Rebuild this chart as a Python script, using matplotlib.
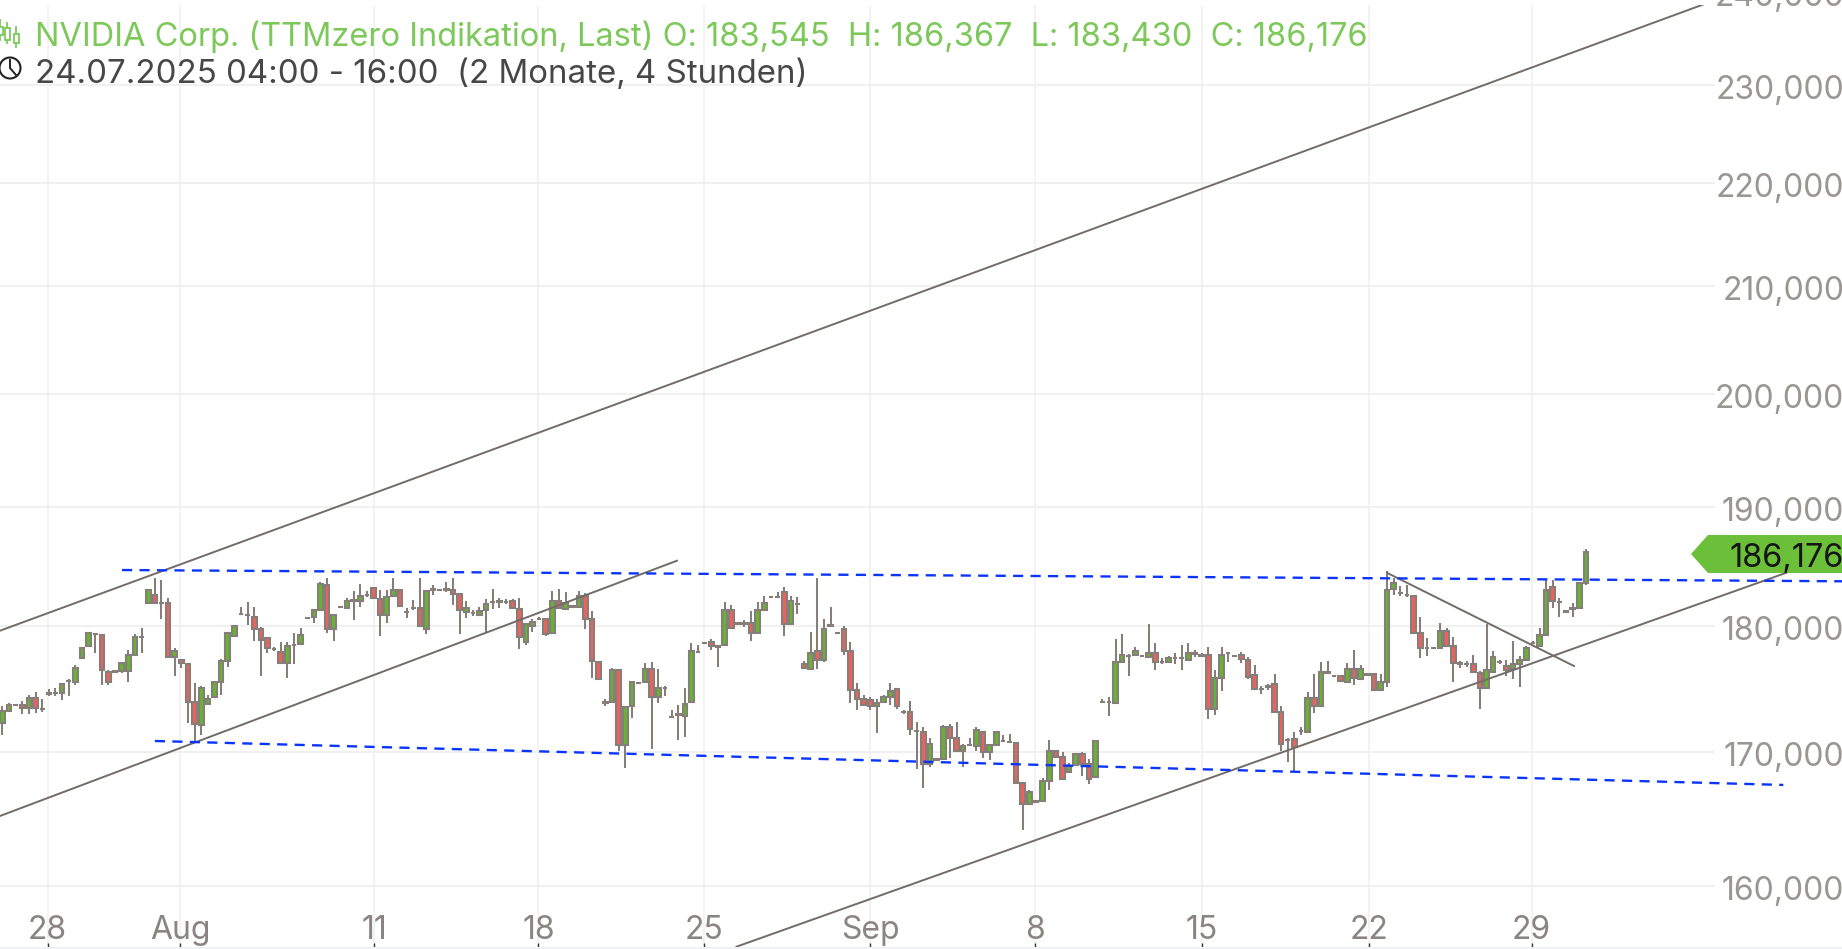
import numpy as np
import matplotlib
matplotlib.use("Agg")
import matplotlib.pyplot as plt
from matplotlib.patches import Polygon, Circle, Rectangle
from matplotlib.transforms import ScaledTranslation

plt.rcParams["font.family"] = ["Inter", "Liberation Sans", "DejaVu Sans"]

# 4h candles
opens = [172.3,173.19,173.67,173.72,173.42,174.25,173.38,174.55,174.62,174.65,175.55,175.5,177.46,178.41,179.4,179.28,176.29,176.35,176.34,176.39,
177.69,179.12,181.89,182.59,181.92,181.89,177.5,177.3,176.95,173.9,172.13,173.75,174.3,175.52,177.16,179.2,181.03,180.9,180.78,179.81,
179.02,178.15,177.88,177.0,178.47,178.57,180.64,180.72,181.33,183.42,179.81,181.53,181.5,182.1,182.09,182.53,183.14,182.22,180.95,182.45,
183.0,181.2,181.45,181.45,179.81,183.0,183.0,183.0,182.95,182.67,181.2,181.06,180.92,181.33,182.0,182.0,182.0,182.03,181.42,178.73,
180.03,180.6,180.56,179.47,182.03,181.39,181.6,181.53,182.5,180.56,177.11,173.88,173.9,176.42,170.54,173.59,175.44,175.5,176.55,174.28,
175.0,172.74,172.95,172.85,173.9,177.92,178.65,178.72,178.36,178.49,181.31,180.2,180.2,180.28,179.47,181.33,182.38,182.38,182.84,180.17,
181.81,176.95,176.56,177.96,177.3,180.05,179.44,179.81,178.01,174.83,174.12,174.06,173.59,173.9,174.33,174.97,173.14,173.17,171.67,171.59,
169.13,169.43,169.45,171.98,171.11,170.13,170.55,170.45,171.56,170.0,170.55,170.87,170.82,170.71,167.63,166.08,166.25,166.25,167.8,170.13,
169.63,168.5,169.0,169.83,169.13,168.13,173.91,173.91,173.83,177.06,177.59,177.67,177.59,177.49,177.8,177.14,177.14,177.46,177.46,177.27,
177.8,177.55,177.67,173.36,175.82,177.8,177.57,177.67,177.27,176.03,174.95,175.16,175.34,173.17,170.98,171.06,171.67,171.59,174.23,173.57,
176.27,175.98,176.0,175.5,176.51,175.71,176.11,176.11,174.87,175.5,183.09,182.72,182.59,182.45,179.42,178.25,178.25,178.23,179.6,178.36,
176.98,176.93,176.93,176.24,175.0,176.3,177.09,176.77,176.51,176.9,177.3,178.62,178.41,179.29,183.2,182.0,181.22,181.45,181.47,183.545]
highs = [173.59,173.8,173.75,173.98,174.51,174.7,174.17,174.98,175.04,175.44,175.71,176.82,178.3,179.47,179.47,179.34,176.45,176.45,177.03,178.04,
179.36,179.89,183.06,183.98,183.78,182.31,178.22,177.35,176.98,175.44,175.18,174.51,175.6,177.35,179.47,180.08,181.56,182.0,181.56,179.9,
179.15,178.28,178.75,178.75,179.47,179.85,180.75,181.39,183.64,183.98,181.0,181.67,182.31,182.86,183.48,182.86,183.22,183.0,183.0,183.98,
183.06,181.47,182.11,183.98,182.92,183.42,183.06,183.64,183.98,182.72,182.03,181.33,181.61,182.25,183.06,182.31,182.22,182.22,182.28,180.22,
180.56,180.72,180.61,182.86,183.06,182.78,181.7,182.86,182.72,181.28,177.16,174.17,176.63,176.45,173.59,175.57,175.5,177.03,177.08,176.5,
175.18,173.32,173.65,175.04,178.62,178.49,178.75,178.99,178.41,181.97,181.7,180.3,180.5,181.22,181.95,182.5,182.45,182.78,183.22,182.45,
182.39,177.16,179.5,183.98,180.58,181.56,179.52,180.0,178.75,175.44,174.51,174.33,174.12,174.51,175.44,175.0,173.25,174.02,172.38,171.98,
171.14,169.5,172.11,172.19,172.33,170.61,171.14,171.98,171.67,170.66,171.61,171.32,171.45,170.79,167.68,167.08,166.3,168.0,170.92,170.21,
170.0,169.18,169.93,170.0,169.5,170.9,174.15,174.31,178.99,179.34,177.72,178.28,177.68,180.2,178.6,177.41,177.59,177.86,178.47,178.6,
178.07,177.8,178.28,176.48,178.28,177.88,177.65,177.88,177.54,176.88,175.21,175.34,176.11,173.57,171.14,171.59,171.93,174.68,176.16,177.09,
177.2,176.06,176.08,177.01,178.04,176.82,176.19,176.16,176.11,184.53,183.98,183.28,183.42,182.5,180.78,179.02,178.33,180.22,179.87,179.15,
177.17,177.17,177.7,176.38,180.14,177.96,177.3,177.3,178.76,177.57,178.36,178.76,179.89,183.92,183.84,182.3,181.33,181.89,183.61,186.367]
lows = [171.33,173.1,173.6,173.0,173.0,173.06,173.16,174.38,174.43,174.07,174.38,175.28,177.4,178.36,177.83,175.28,175.23,176.25,176.24,175.5,
177.64,177.83,181.83,181.83,180.56,177.43,175.97,176.63,172.26,170.8,171.33,173.65,174.25,174.51,176.7,179.1,180.9,180.08,178.78,175.97,
177.83,178.0,176.93,175.81,176.93,178.52,180.55,180.28,181.28,179.42,178.83,181.45,181.45,180.5,181.61,182.36,182.22,179.23,180.22,182.39,
181.61,180.7,181.33,179.95,179.36,182.59,182.94,182.8,181.75,179.36,180.7,180.86,180.86,179.42,181.42,181.47,181.83,181.42,178.15,178.49,
179.55,180.5,179.23,179.42,181.39,181.33,181.5,181.47,179.81,175.84,175.65,173.59,173.85,170.09,168.82,172.66,175.38,175.39,170.27,173.85,
174.38,172.63,170.94,171.2,173.85,177.83,178.55,178.09,176.69,178.41,179.81,180.1,179.95,178.83,179.42,181.28,182.3,182.28,179.23,180.11,
181.0,176.56,176.5,176.5,177.08,179.95,179.36,177.64,173.85,173.32,173.59,173.32,171.52,173.85,173.72,173.38,172.96,171.32,168.75,167.25,
168.88,169.35,169.43,169.55,170.08,168.88,170.5,170.13,169.53,169.38,170.5,170.79,170.71,167.58,164.13,166.03,166.2,166.2,167.08,169.55,
167.93,168.45,168.95,168.18,167.55,168.08,173.83,172.78,173.78,177.01,175.95,177.62,177.52,177.41,176.48,176.96,177.09,176.96,176.48,177.22,
177.49,177.49,172.62,172.91,174.76,177.06,177.5,177.01,175.77,174.89,174.52,174.89,173.09,170.08,169.25,168.5,171.37,171.53,173.09,173.52,
176.22,175.9,175.48,175.45,175.26,175.66,175.98,174.81,174.81,175.13,182.59,182.5,182.39,179.36,177.43,177.62,178.18,178.17,178.31,175.5,
176.59,176.72,176.24,173.39,174.95,176.24,176.96,175.98,175.71,175.1,177.25,178.57,178.36,179.23,181.47,180.72,181.06,180.72,181.42,183.43]
closes = [173.19,173.67,173.65,173.45,174.25,173.45,173.35,174.6,174.65,175.33,175.58,176.6,178.25,179.42,179.38,176.42,175.5,176.33,176.98,177.69,
179.15,179.15,183.0,181.89,181.9,177.5,177.96,176.98,173.9,172.2,175.0,174.12,175.52,177.16,179.42,180.0,181.0,180.88,179.81,178.89,
178.2,178.13,177.0,178.36,178.5,179.26,180.66,181.33,183.5,179.81,180.92,181.55,182.09,182.12,182.45,182.55,182.28,180.95,182.39,182.95,
181.67,181.18,181.47,180.0,182.86,183.02,183.0,183.02,182.64,181.33,181.47,181.08,181.25,181.81,182.02,182.03,182.01,181.47,179.15,180.17,
180.36,180.62,179.34,182.03,181.47,181.89,181.62,182.5,180.56,177.16,175.71,173.86,176.42,170.54,173.53,175.5,175.46,176.55,174.28,175.0,
175.03,172.72,172.93,173.75,177.98,177.94,178.66,178.41,178.34,181.33,179.87,180.22,180.22,179.47,181.33,181.89,182.4,182.4,180.17,182.06,
181.8,176.63,177.83,177.3,179.81,180.07,179.42,178.01,174.83,174.12,173.72,173.59,173.85,174.28,174.78,173.59,173.12,171.77,171.65,169.13,
170.66,169.45,171.98,171.11,170.13,170.5,170.57,171.72,170.0,170.53,171.56,170.85,170.8,167.63,166.08,166.93,166.23,167.83,170.13,169.63,
167.95,168.93,169.83,169.13,167.95,170.84,173.93,173.89,177.14,177.67,177.57,178.02,177.57,177.8,177.14,177.12,177.41,177.44,177.44,177.86,
177.78,177.68,173.36,175.82,177.67,177.82,177.55,177.33,175.9,174.95,174.93,175.14,173.17,170.66,170.96,170.4,171.65,174.23,173.57,176.27,
176.25,175.96,175.55,176.56,175.85,176.56,176.09,174.87,175.5,183.0,183.56,182.7,182.57,179.42,178.23,178.23,178.23,179.6,178.36,176.98,
176.96,176.91,176.3,175.0,176.43,177.51,177.07,176.45,176.9,177.3,178.23,178.64,179.29,183.0,182.09,181.98,181.2,181.43,183.56,186.176]

# trading bar index of each date label
tick_pos = [6.82, 26.84, 56.08, 80.9, 105.9, 131.0, 155.9, 181.0, 206.2, 230.8]
tick_labels = ["28", "Aug", "11", "18", "25", "Sep", "8", "15", "22", "29"]
price_levels = [160, 170, 180, 190, 200, 210, 220, 230, 240]

# drawn trend lines (bar index, price)
grey_lines = [
    ([-0.38, 257.1], [179.63, 238.7]),
    ([-0.38, 101.8], [165.16, 185.42]),
    ([110.8, 269.3], [155.66, 184.42]),
    ([209.0, 237.2], [184.4, 176.78]),
]
blue_lines = [
    ([18.04, 277.66], [184.64, 183.7]),
    ([23.0, 268.8], [170.87, 167.5]),
]

last_price = 186.176
title_text = "NVIDIA Corp. (TTMzero Indikation, Last) O: 183,545  H: 186,367  L: 183,430  C: 186,176"
range_text = "24.07.2025 04:00 - 16:00  (2 Monate, 4 Stunden)"

W, H = 1842, 949
GREY = "#857e79"
LINE = "#736b67"
UP = "#66b52e"
DOWN = "#f0605a"
TXT = "#9a9694"

fig = plt.figure(figsize=(W / 100, H / 100), dpi=100, facecolor="white")
ax = fig.add_axes([0, 2 / H, 1, 942 / H])
ax.set_yscale("log")
ax.set_xlim(-0.377, 277.66)
ax.set_ylim(160 * np.exp(-61 / 2206), 160 * np.exp(881 / 2206))
for s in ax.spines.values():
    s.set_visible(False)

x = np.arange(len(opens))
o, h, l, c = map(np.array, (opens, highs, lows, closes))

# grid
ax.vlines(tick_pos, *ax.get_ylim(), color="#f0f0f0", lw=1.1, zorder=1)
ax.hlines(price_levels, -1, 258.5, color="#efefef", lw=1.3, zorder=1)

# candles
ax.vlines(x, l, h, color=GREY, lw=1.45, zorder=2)
colors = np.where(c >= o, UP, DOWN)
ax.bar(x, np.abs(c - o), bottom=np.minimum(o, c), width=0.68, color=colors,
       edgecolor=GREY, linewidth=1.5, zorder=3)

for xs, ys in grey_lines:
    ax.plot(xs, ys, color=LINE, lw=1.4, zorder=4)
for xs, ys in blue_lines:
    ax.plot(xs, ys, color="#0a35ff", lw=1.7, dashes=(4.3, 3.1), zorder=5)

# axis labels sit inside the plot
ax.set_yticks([])
ax.minorticks_off()
ax.set_xticks(tick_pos)
ax.set_xticklabels(tick_labels, fontsize=23, color="#8a8582")
ax.tick_params(axis="x", direction="in", length=3, width=1, color="#333333", pad=-23)
ax.tick_params(axis="y", which="both", left=False)

# pixel layer for header, price scale and tag
ov = fig.add_axes([0, 0, 1, 1], facecolor="none")
ov.set_xlim(0, W)
ov.set_ylim(H, 0)
ov.axis("off")

tr = ax.get_yaxis_transform() + ScaledTranslation(0, -2 / 100, fig.dpi_scale_trans)
for p in price_levels:
    ax.text(1.0012, p, f"{p},000", transform=tr, ha="right", va="center_baseline",
            fontsize=23, color=TXT, clip_on=False, zorder=6)

ov.add_patch(Polygon([(1691, 554), (1708, 535), (W + 2, 535), (W + 2, 573), (1708, 573)],
                     closed=True, fc="#6cbf38", ec="none", zorder=7))
ov.text(W + 2, 555, f"{last_price:.3f}".replace(".", ","), ha="right", va="center_baseline",
        fontsize=23.4, color="#141414", zorder=8)

ov.text(35, 37, title_text, fontsize=23.45, color="#7cc95a", va="center", ha="left")
ov.text(35, 74, range_text, fontsize=23.8, color="#474747", va="center", ha="left")

# chart icon
icon = "#7cc95a"
for cx, t, b, wt, wb in [(0, 27, 35, 20, 40), (7, 28, 40, 23, 43), (16, 34, 43, 27, 47)]:
    ov.plot([cx, cx], [wt, wb], color=icon, lw=1.3)
    ov.add_patch(Rectangle((cx - 2.5, t), 5, b - t, fc="white", ec=icon, lw=1.3, zorder=3))
# clock icon
ov.add_patch(Circle((10, 68), 10.5, fc="white", ec="#222222", lw=1.5))
ov.plot([10, 10, 16], [60, 68, 75], color="#222222", lw=1.4)

# bottom strip
ov.add_patch(Rectangle((0, 947), W, 2, fc="#eef2f6", ec="none"))

fig.savefig("out.png", dpi=100)
